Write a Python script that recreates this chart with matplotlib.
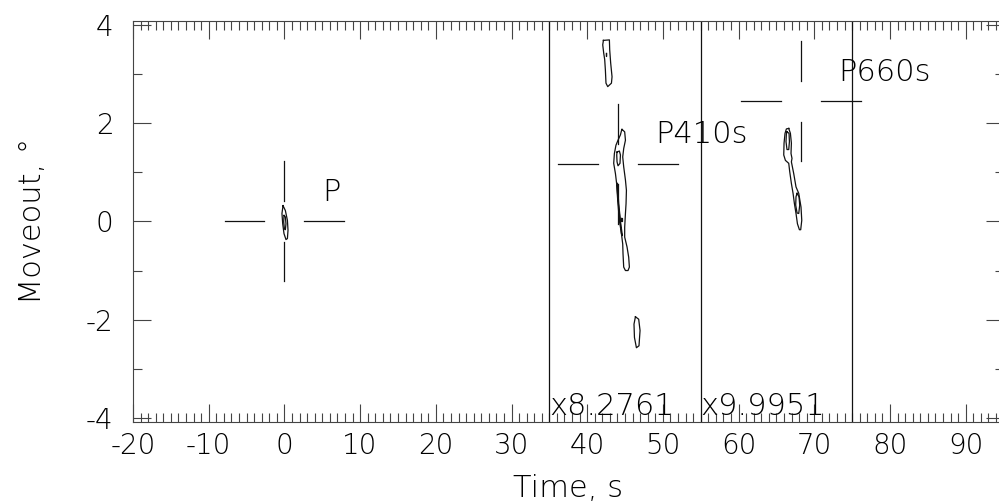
import matplotlib
matplotlib.use("Agg")
import matplotlib.pyplot as plt
from matplotlib.ticker import MultipleLocator

# ---- picks (crosshair centres) ----
PICK_NAMES = ["P", "P410s", "P660s"]
PICK_TIME = [0.0, 44.07, 68.2]
PICK_MOVEOUT = [0.0, 1.17, 2.44]

# ---- amplification windows ----
WINDOW_EDGES = [35, 55, 75]
WINDOW_GAINS = ["x8.2761", "x9.9951"]

# ---- contour outlines (time s, moveout deg) ----
P_OUTER_T = [-0.18, 0.13, 0.40, 0.48, 0.40, 0.21, -0.05, -0.22, -0.32]
P_OUTER_M = [0.32, 0.22, 0.02, -0.18, -0.35, -0.37, -0.25, -0.05, 0.16]
P_INNER_T = [-0.05, 0.13, 0.21, 0.13, 0.00, -0.09]
P_INNER_M = [0.12, 0.09, -0.05, -0.17, -0.15, -0.01]

TOP_T = [42.14, 42.93, 42.97, 43.10, 43.28, 43.20, 42.71, 42.48, 42.40, 42.31, 42.18, 42.05]
TOP_M = [3.68, 3.69, 3.49, 3.22, 2.94, 2.81, 2.74, 2.81, 3.08, 3.29, 3.42, 3.59]
TOP_DOT_T = [42.43, 42.53, 42.53, 42.43]
TOP_DOT_M = [3.42, 3.42, 3.36, 3.36]

MAIN_T = [44.60, 44.95, 45.05, 44.82, 44.69, 44.82, 45.05, 45.18, 45.13, 45.05, 44.95,
          44.95, 45.26, 45.48, 45.57, 45.39, 45.05, 44.82, 44.73, 44.69, 44.52, 44.39,
          44.25, 44.07, 43.94, 43.73, 43.50, 43.59, 43.80, 44.07, 44.39, 44.52]
MAIN_M = [1.87, 1.82, 1.65, 1.48, 1.31, 1.11, 0.84, 0.63, 0.36, 0.16, -0.12,
          -0.32, -0.52, -0.73, -0.93, -1.00, -1.00, -0.93, -0.66, -0.46, -0.25, -0.05,
          0.16, 0.43, 0.70, 0.97, 1.18, 1.38, 1.55, 1.65, 1.76, 1.84]
MAIN_IN1_T = [43.94, 44.25, 44.39, 44.33, 44.07, 43.94, 43.90]
MAIN_IN1_M = [1.41, 1.43, 1.35, 1.18, 1.13, 1.21, 1.35]
MAIN_IN2_T = [43.99, 44.16, 44.43, 44.65, 44.52, 44.25, 44.03, 43.90]
MAIN_IN2_M = [0.77, 0.36, -0.05, -0.29, -0.25, 0.02, 0.43, 0.73]
MAIN_DOT_T = [44.47, 44.57, 44.57, 44.47]
MAIN_DOT_M = [0.06, 0.06, 0.00, 0.00]

LOW_T = [46.37, 46.80, 46.98, 46.84, 46.50, 46.24, 46.18]
LOW_M = [-1.94, -1.99, -2.22, -2.53, -2.57, -2.36, -2.09]

B660_T = [66.62, 66.84, 66.97, 66.92, 67.05, 66.97, 67.28, 67.58, 67.94, 68.24, 68.34,
          68.20, 68.03, 67.77, 67.58, 67.37, 67.19, 66.97, 66.75, 66.62, 66.18, 65.96,
          66.00, 66.13, 66.31]
B660_M = [1.89, 1.79, 1.59, 1.38, 1.28, 1.21, 0.97, 0.70, 0.57, 0.29, 0.02,
          -0.17, -0.17, -0.05, 0.16, 0.36, 0.57, 0.77, 1.01, 1.18, 1.24, 1.35,
          1.59, 1.79, 1.88]
B660_IN1_T = [66.39, 66.66, 66.71, 66.62, 66.39, 66.26, 66.31]
B660_IN1_M = [1.82, 1.79, 1.62, 1.46, 1.46, 1.62, 1.78]
B660_IN2_T = [67.72, 67.98, 68.07, 67.94, 67.72, 67.54, 67.58]
B660_IN2_M = [0.57, 0.50, 0.33, 0.16, 0.17, 0.33, 0.50]

CONTOURS = [
    (P_OUTER_T, P_OUTER_M), (P_INNER_T, P_INNER_M),
    (TOP_T, TOP_M), (TOP_DOT_T, TOP_DOT_M),
    (MAIN_T, MAIN_M), (MAIN_IN1_T, MAIN_IN1_M), (MAIN_IN2_T, MAIN_IN2_M),
    (MAIN_DOT_T, MAIN_DOT_M), (LOW_T, LOW_M),
    (B660_T, B660_M), (B660_IN1_T, B660_IN1_M), (B660_IN2_T, B660_IN2_M),
]

# crosshair arm extents (gap, end) in data units
ARM_X = (2.65, 7.9)
ARM_Y = (0.41, 1.22)

plt.rcParams.update({
    "font.family": "DejaVu Sans",
    "font.weight": "light",
    "axes.labelweight": "light",
    "axes.unicode_minus": False,
})

fig = plt.figure(figsize=(9.99, 5.04), dpi=100)
ax = fig.add_axes([0.1331, 0.1627, 0.8715, 0.7962])

LC = "#111111"
TC = "#000000"
LW = 0.9

# contours
for t, m in CONTOURS:
    ax.plot(list(t) + [t[0]], list(m) + [m[0]], color=LC, lw=LW)

# window boundaries and gain labels
for xe in WINDOW_EDGES:
    ax.axvline(xe, color=LC, lw=LW)
for xe, g in zip(WINDOW_EDGES, WINDOW_GAINS):
    ax.annotate(g, (xe, -4.08), xytext=(0, 5), textcoords="offset points",
                ha="left", va="baseline", fontsize=22, color=TC)

# crosshairs with labels
for name, t0, m0 in zip(PICK_NAMES, PICK_TIME, PICK_MOVEOUT):
    g, e = ARM_X
    ax.plot([t0 - e, t0 - g], [m0, m0], color=LC, lw=LW)
    ax.plot([t0 + g, t0 + e], [m0, m0], color=LC, lw=LW)
    g, e = ARM_Y
    ax.plot([t0, t0], [m0 + g, m0 + e], color=LC, lw=LW)
    ax.plot([t0, t0], [m0 - g, m0 - e], color=LC, lw=LW)
    ax.annotate(name, (t0, m0), xytext=(27, 15), textcoords="offset points",
                ha="left", va="baseline", fontsize=22, color=TC)

ax.set_xlim(-20, 95)
ax.set_ylim(-4.08, 4.08)
ax.xaxis.set_major_locator(MultipleLocator(10))
ax.xaxis.set_minor_locator(MultipleLocator(1))
ax.yaxis.set_major_locator(MultipleLocator(2))
ax.yaxis.set_minor_locator(MultipleLocator(1))
ax.set_xticks(range(-20, 91, 10))
ax.set_xticklabels([str(v) for v in range(-20, 91, 10)])
ax.set_yticks([-4, -2, 0, 2, 4])
ax.set_yticklabels(["-4", "-2", "0", "2", "4"])

ax.tick_params(which="both", direction="in", top=True, right=True,
               color="#444444", width=0.8, labelsize=20, labelcolor=TC)
ax.tick_params(which="major", length=13)
ax.tick_params(which="minor", length=6.5)
ax.tick_params(axis="x", pad=7)
ax.tick_params(axis="y", pad=14)

for sp in ax.spines.values():
    sp.set_color("#444444")
    sp.set_linewidth(0.8)

ax.set_xlabel("Time, s", fontsize=22, color=TC, labelpad=10)
ax.set_ylabel("Moveout, °", fontsize=22, color=TC, labelpad=28)

fig.savefig("out.png", dpi=100)
